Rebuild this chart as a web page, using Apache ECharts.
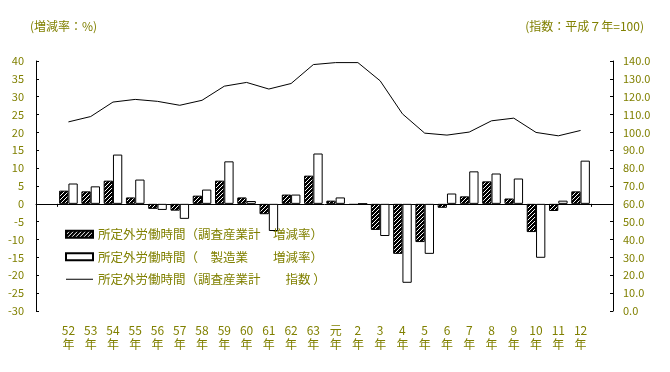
<!DOCTYPE html>
<html><head><meta charset="utf-8">
<script src="https://cdn.jsdelivr.net/npm/echarts@6/dist/echarts.min.js"></script>
<style>html,body{margin:0;padding:0;background:#fff}#c{width:670px;height:372px}</style>
</head><body><div id="c"></div>
<script>
const categories = ['52','53','54','55','56','57','58','59','60','61','62','63','元','2','3','4','5','6','7','8','9','10','11','12'];
const yearSuffix = '年';
const changeAll = [3.7, 3.5, 6.5, 1.8, -1.4, -1.9, 2.3, 6.5, 1.8, -2.9, 2.6, 7.9, 0.9, -0.3, -7.3, -14.0, -10.7, -1.1, 2.1, 6.3, 1.5, -7.9, -2.0, 3.5];
const changeMfg = [5.7, 4.9, 13.8, 6.8, -1.7, -4.2, 4.0, 11.9, 0.8, -7.6, 2.6, 14.1, 1.8, 0.0, -9.0, -22.1, -14.0, 2.9, 9.1, 8.5, 7.1, -15.1, 0.9, 12.1];
const indexAll = [105.9, 108.9, 117.0, 118.5, 117.4, 115.2, 118.0, 125.9, 128.0, 124.3, 127.4, 138.0, 139.1, 139.1, 128.9, 110.4, 99.6, 98.5, 100.2, 106.5, 108.0, 100.0, 98.1, 101.1];
const seriesNames = ['所定外労働時間（調査産業計　増減率）', '所定外労働時間（　製造業　　増減率）', '所定外労働時間（調査産業計　　指数 ）'];
const leftAxis = {min: -30, max: 40, interval: 5};
const rightAxis = {min: 0, max: 140, interval: 10};
const leftTitle = '(増減率：%)';
const rightTitle = '(指数：平成７年=100)';

const OLIVE = '#808000';
const FONT = "'Noto Sans CJK JP', sans-serif";

function hatch() {
  const c = document.createElement('canvas');
  c.width = 4; c.height = 4;
  const g = c.getContext('2d');
  g.fillStyle = '#000'; g.fillRect(0, 0, 4, 4);
  g.fillStyle = '#fff';
  for (let i = 0; i < 4; i++) g.fillRect(3 - i, i, 1, 1);
  return c;
}

const chart = echarts.init(document.getElementById('c'), null, {renderer: 'canvas'});
chart.setOption({
  animation: false,
  backgroundColor: '#fff',
  textStyle: {fontFamily: FONT},
  title: [
    {text: leftTitle, left: 30, top: 20, textStyle: {color: OLIVE, fontSize: 12, fontWeight: 'normal', fontFamily: FONT}, padding: 0},
    {text: rightTitle, right: 26, top: 20, textStyle: {color: OLIVE, fontSize: 12, fontWeight: 'normal', fontFamily: FONT}, padding: 0}
  ],
  legend: {
    orient: 'vertical', left: 65, top: 228, itemWidth: 27, itemHeight: 7, itemGap: 10, padding: 0,
    textStyle: {color: OLIVE, fontSize: 12.5, fontFamily: FONT},
    data: [
      {name: seriesNames[0], icon: 'rect'},
      {name: seriesNames[1], icon: 'rect'},
      {name: seriesNames[2], itemStyle: {opacity: 0}, lineStyle: {color: '#000', width: 1, opacity: 1}}
    ]
  },
  grid: [
    {left: 36, right: 57, top: 61, bottom: 61},
    {left: 57.3, right: 78.3, top: 61, bottom: 61}
  ],
  xAxis: [
    {gridIndex: 0, type: 'value', min: 0, max: 1, axisLine: {show: true, onZero: true, onZeroAxisIndex: 0, lineStyle: {color: '#000', width: 1}}, axisTick: {show: false}, axisLabel: {show: false}, splitLine: {show: false}},
    {gridIndex: 1, type: 'category', data: categories, position: 'bottom', axisLine: {show: false, onZero: false}, axisTick: {show: false},
      axisLabel: {interval: 0, formatter: v => v + '\n' + yearSuffix, color: OLIVE, fontSize: 12, lineHeight: 14, margin: 12, fontFamily: FONT}},
    {gridIndex: 1, type: 'category', data: categories, axisLine: {show: false, onZero: true, onZeroAxisIndex: 2}, axisLabel: {show: false},
      axisTick: {show: true, inside: true, length: 3, interval: (i) => i === 0, lineStyle: {color: '#000'}}}
  ],
  yAxis: [
    {gridIndex: 0, type: 'value', position: 'left', min: leftAxis.min, max: leftAxis.max, interval: leftAxis.interval,
      axisLine: {show: true, lineStyle: {color: '#000', width: 1}}, axisTick: {show: true, inside: true, length: 3, lineStyle: {color: '#000'}},
      axisLabel: {color: OLIVE, fontSize: 11, margin: 12, fontFamily: FONT}, splitLine: {show: false}},
    {gridIndex: 0, type: 'value', position: 'right', min: rightAxis.min, max: rightAxis.max, interval: rightAxis.interval,
      axisLine: {show: true, lineStyle: {color: '#000', width: 1}}, axisTick: {show: true, inside: true, length: 3, lineStyle: {color: '#000'}},
      axisLabel: {color: OLIVE, fontSize: 11, margin: 10, fontFamily: FONT, formatter: v => v.toFixed(1)}, splitLine: {show: false}},
    {gridIndex: 1, type: 'value', show: false, min: leftAxis.min, max: leftAxis.max, splitLine: {show: false}},
    {gridIndex: 1, type: 'value', show: false, min: rightAxis.min, max: rightAxis.max, splitLine: {show: false}}
  ],
  series: [
    {name: seriesNames[0], type: 'bar', xAxisIndex: 1, yAxisIndex: 2, data: changeAll, barWidth: 9.3, barGap: '0%',
      itemStyle: {color: {image: hatch(), repeat: 'repeat'}, borderColor: '#000', borderWidth: 1}},
    {name: seriesNames[1], type: 'bar', xAxisIndex: 1, yAxisIndex: 2, data: changeMfg, barWidth: 9.3, barGap: '0%',
      itemStyle: {color: '#fff', borderColor: '#000', borderWidth: 1}},
    {name: seriesNames[2], type: 'line', xAxisIndex: 1, yAxisIndex: 3, data: indexAll, symbol: 'none', showSymbol: false,
      lineStyle: {color: '#000', width: 1}, itemStyle: {color: '#000'}}
  ]
});
</script>
</body></html>
